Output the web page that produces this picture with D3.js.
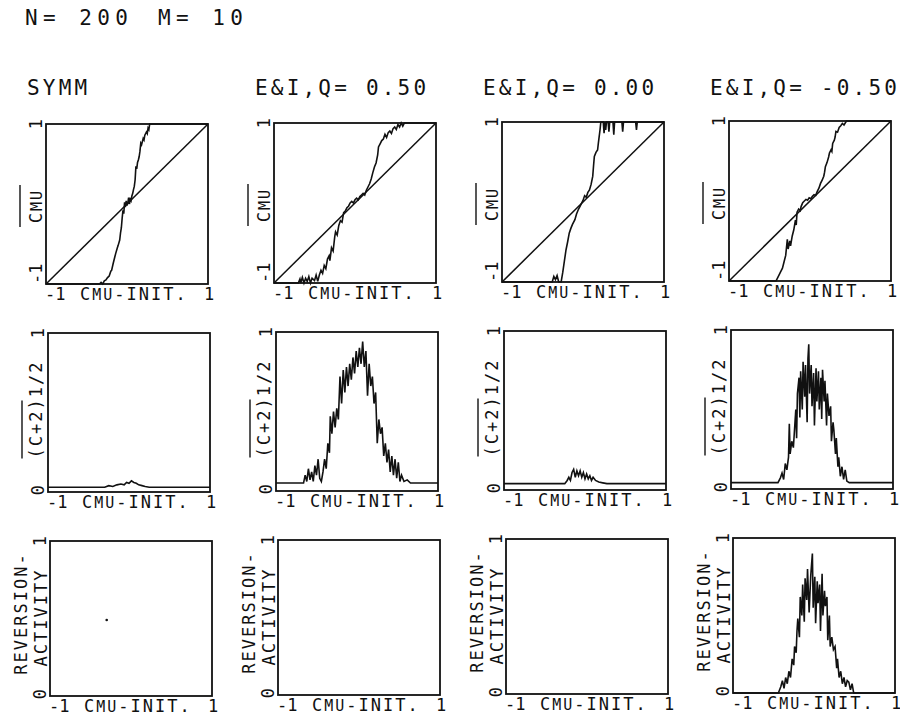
<!DOCTYPE html>
<html lang="en">
<head>
<meta charset="UTF-8">
<title>CMU panels</title>
<script src="https://d3js.org/d3.v7.min.js"></script>
<style>
    body { margin: 0; background: #fff; }
    text { font-family: "DejaVu Sans Mono", monospace; fill: #111; }
    .big { font-size: 21px; letter-spacing: 3.2px; }
    .head { letter-spacing: 5.4px; }
    .ax { font-size: 17px; letter-spacing: 2px; }
</style>
</head>
<body>
<div id="chart"></div>

<script type="text/javascript">
    var width = 900;
    var height = 717;

    var headerN = "N= 200";
    var headerM = "M= 10";
    var columnTitles = ["SYMM", "E&I,Q= 0.50", "E&I,Q= 0.00", "E&I,Q= -0.50"];
    var xTicks = ["-1", "1"];
    var rowTicks = [["-1", "1"], ["0", "1"], ["0", "1"]];
    var rowDomains = [[-1, 1], [0, 1], [0, 1]];

    // row 1: final CMU against initial CMU, with the diagonal
    var diagonal = [[-1, -1], [1, 1]];
    var cmuSymm = [[-1,-1],[-0.34,-1],[-0.32,-0.98],[-0.3,-1],[-0.28,-0.96],[-0.26,-0.95],[-0.24,-0.92],[-0.22,-0.9],[-0.2,-0.84],[-0.19,-0.83],[-0.17,-0.74],[-0.15,-0.66],[-0.14,-0.62],[-0.12,-0.55],[-0.11,-0.52],[-0.09,-0.45],[-0.08,-0.36],[-0.07,-0.3],[-0.06,-0.18],[-0.05,-0.08],[-0.04,-0.12],[-0.03,0.02],[-0.02,-0.04],[-0.01,0.04],[0.0,-0.02],[0.01,0.01],[0.02,0.08],[0.03,0.0],[0.04,0.06],[0.05,0.04],[0.06,0.1],[0.07,0.13],[0.08,0.18],[0.09,0.22],[0.1,0.3],[0.11,0.47],[0.12,0.44],[0.13,0.52],[0.14,0.55],[0.15,0.59],[0.16,0.66],[0.17,0.76],[0.18,0.74],[0.2,0.82],[0.21,0.8],[0.22,0.86],[0.24,0.9],[0.25,0.88],[0.26,0.95],[0.27,0.93],[0.28,1],[1,1]];
    var cmuQ050 = [[-1,-1],[-0.7,-1],[-0.68,-0.95],[-0.67,-1],[-0.65,-0.93],[-0.63,-1],[-0.61,-0.94],[-0.59,-0.98],[-0.57,-0.92],[-0.55,-1],[-0.53,-0.94],[-0.5,-0.97],[-0.48,-0.9],[-0.46,-0.98],[-0.44,-0.9],[-0.42,-0.84],[-0.4,-0.88],[-0.38,-0.78],[-0.36,-0.82],[-0.34,-0.7],[-0.32,-0.66],[-0.31,-0.72],[-0.29,-0.56],[-0.27,-0.6],[-0.25,-0.42],[-0.24,-0.36],[-0.22,-0.4],[-0.2,-0.28],[-0.18,-0.22],[-0.16,-0.24],[-0.14,-0.12],[-0.12,-0.1],[-0.1,-0.06],[-0.08,-0.04],[-0.06,0.0],[-0.04,0.02],[-0.02,0.0],[0.0,0.04],[0.02,0.06],[0.04,0.04],[0.06,0.08],[0.08,0.1],[0.1,0.12],[0.12,0.1],[0.14,0.16],[0.16,0.2],[0.18,0.24],[0.2,0.3],[0.22,0.38],[0.24,0.45],[0.26,0.5],[0.28,0.6],[0.29,0.7],[0.31,0.74],[0.33,0.78],[0.35,0.8],[0.37,0.86],[0.39,0.82],[0.41,0.88],[0.43,0.9],[0.45,0.87],[0.47,0.93],[0.49,0.95],[0.51,0.92],[0.53,0.98],[0.55,0.95],[0.57,1],[0.59,0.96],[0.61,1],[1,1]];
    var cmuQ000 = [[-1,-1],[-0.38,-1],[-0.36,-0.93],[-0.34,-0.97],[-0.32,-0.92],[-0.3,-1],[-0.27,-1],[-0.25,-0.88],[-0.23,-0.74],[-0.21,-0.6],[-0.19,-0.5],[-0.17,-0.39],[-0.15,-0.33],[-0.13,-0.28],[-0.1,-0.22],[-0.08,-0.15],[-0.06,-0.1],[-0.04,-0.06],[-0.02,-0.02],[0.0,0.02],[0.02,0.08],[0.04,0.06],[0.06,0.12],[0.08,0.15],[0.1,0.22],[0.12,0.32],[0.13,0.45],[0.14,0.57],[0.16,0.62],[0.18,0.65],[0.19,0.74],[0.2,0.82],[0.21,0.9],[0.22,1],[0.25,1],[0.26,0.86],[0.27,1],[0.28,0.9],[0.29,1],[0.31,1],[0.32,0.88],[0.33,1],[0.37,1],[0.38,0.84],[0.39,1],[0.48,1],[0.49,0.88],[0.5,1],[0.65,1],[0.66,0.9],[0.67,1],[1,1]];
    var cmuQm050 = [[-1,-1],[-0.42,-1],[-0.4,-0.96],[-0.38,-0.92],[-0.36,-0.88],[-0.34,-0.84],[-0.32,-0.76],[-0.3,-0.68],[-0.28,-0.48],[-0.27,-0.6],[-0.25,-0.5],[-0.24,-0.56],[-0.22,-0.44],[-0.2,-0.36],[-0.18,-0.24],[-0.17,-0.3],[-0.16,-0.14],[-0.14,-0.1],[-0.12,-0.12],[-0.11,-0.07],[-0.09,-0.02],[-0.07,0.0],[-0.05,0.02],[-0.03,0.01],[-0.01,0.04],[0.01,0.03],[0.03,0.06],[0.05,0.08],[0.07,0.07],[0.09,0.12],[0.11,0.16],[0.13,0.22],[0.15,0.26],[0.17,0.31],[0.18,0.36],[0.19,0.43],[0.21,0.48],[0.23,0.55],[0.24,0.6],[0.26,0.64],[0.27,0.62],[0.28,0.72],[0.3,0.76],[0.31,0.8],[0.32,0.87],[0.34,0.86],[0.36,0.92],[0.38,0.94],[0.4,0.97],[0.42,0.95],[0.45,1],[1,1]];

    // row 2: (C+^2)^1/2 against initial CMU
    var flucSymm = [[-1,0.03],[-0.3,0.03],[-0.25,0.04],[-0.2,0.035],[-0.15,0.045],[-0.1,0.05],[-0.06,0.045],[-0.03,0.06],[0.0,0.055],[0.03,0.07],[0.06,0.06],[0.09,0.055],[0.12,0.045],[0.16,0.04],[0.2,0.035],[0.25,0.03],[1,0.03]];
    var flucQ050 = [[-1,0.05],[-0.66,0.05],[-0.64,0.1],[-0.62,0.06],[-0.6,0.14],[-0.58,0.07],[-0.56,0.12],[-0.54,0.06],[-0.52,0.16],[-0.5,0.1],[-0.48,0.2],[-0.46,0.08],[-0.44,0.06],[-0.42,0.12],[-0.4,0.2],[-0.38,0.14],[-0.36,0.3],[-0.34,0.24],[-0.33,0.47],[-0.31,0.36],[-0.29,0.5],[-0.27,0.4],[-0.25,0.52],[-0.23,0.45],[-0.21,0.72],[-0.19,0.55],[-0.17,0.76],[-0.15,0.62],[-0.13,0.78],[-0.11,0.66],[-0.09,0.8],[-0.07,0.7],[-0.05,0.84],[-0.03,0.74],[-0.01,0.88],[0.01,0.78],[0.03,0.9],[0.05,0.8],[0.07,0.94],[0.09,0.78],[0.11,0.88],[0.13,0.6],[0.15,0.8],[0.17,0.66],[0.19,0.72],[0.21,0.55],[0.23,0.62],[0.25,0.3],[0.27,0.45],[0.29,0.36],[0.31,0.4],[0.33,0.22],[0.35,0.3],[0.37,0.18],[0.39,0.26],[0.41,0.12],[0.43,0.22],[0.45,0.1],[0.47,0.2],[0.49,0.08],[0.51,0.18],[0.53,0.06],[0.55,0.1],[0.58,0.06],[0.62,0.07],[0.66,0.05],[1,0.05]];
    var flucQ000 = [[-1,0.04],[-0.25,0.04],[-0.22,0.06],[-0.2,0.08],[-0.18,0.06],[-0.16,0.11],[-0.14,0.13],[-0.12,0.08],[-0.1,0.12],[-0.08,0.09],[-0.06,0.12],[-0.04,0.08],[-0.02,0.11],[0.0,0.07],[0.02,0.1],[0.04,0.07],[0.06,0.09],[0.08,0.06],[0.1,0.08],[0.13,0.06],[0.17,0.05],[0.22,0.045],[0.27,0.04],[1,0.04]];
    var flucQm050 = [[-1,0.04],[-0.42,0.04],[-0.39,0.07],[-0.37,0.1],[-0.35,0.06],[-0.33,0.16],[-0.31,0.12],[-0.29,0.2],[-0.28,0.41],[-0.27,0.22],[-0.25,0.3],[-0.23,0.26],[-0.22,0.34],[-0.2,0.5],[-0.19,0.32],[-0.18,0.6],[-0.16,0.7],[-0.15,0.45],[-0.14,0.74],[-0.12,0.5],[-0.11,0.8],[-0.09,0.58],[-0.08,0.78],[-0.06,0.42],[-0.05,0.82],[-0.04,0.91],[-0.03,0.6],[-0.01,0.78],[0.0,0.52],[0.02,0.73],[0.03,0.4],[0.05,0.76],[0.06,0.55],[0.08,0.74],[0.09,0.5],[0.11,0.7],[0.12,0.44],[0.13,0.75],[0.15,0.55],[0.16,0.68],[0.18,0.4],[0.19,0.6],[0.21,0.46],[0.23,0.52],[0.24,0.3],[0.26,0.42],[0.27,0.37],[0.29,0.22],[0.3,0.32],[0.32,0.14],[0.33,0.2],[0.35,0.08],[0.37,0.14],[0.39,0.06],[0.41,0.12],[0.43,0.05],[0.46,0.04],[1,0.04]];

    // row 3: reversion activity against initial CMU
    var revSymm = [[-0.3, 0.49]];
    var revQ050 = [];
    var revQ000 = [];
    var revQm050 = [[-1,0],[-0.44,0],[-0.41,0.04],[-0.39,0.08],[-0.37,0.03],[-0.35,0.1],[-0.33,0.06],[-0.31,0.14],[-0.29,0.1],[-0.27,0.22],[-0.25,0.18],[-0.24,0.3],[-0.22,0.26],[-0.21,0.4],[-0.2,0.48],[-0.18,0.36],[-0.17,0.62],[-0.15,0.5],[-0.14,0.7],[-0.12,0.46],[-0.11,0.74],[-0.09,0.6],[-0.08,0.8],[-0.06,0.52],[-0.04,0.76],[-0.02,0.9],[-0.01,0.55],[0.01,0.75],[0.02,0.45],[0.04,0.72],[0.05,0.58],[0.07,0.7],[0.08,0.4],[0.1,0.77],[0.11,0.5],[0.13,0.66],[0.14,0.56],[0.16,0.62],[0.17,0.34],[0.19,0.5],[0.2,0.3],[0.22,0.36],[0.24,0.28],[0.26,0.3],[0.28,0.16],[0.29,0.22],[0.31,0.1],[0.33,0.14],[0.35,0.06],[0.37,0.1],[0.39,0.04],[0.41,0.08],[0.43,0.07],[0.45,0.02],[0.47,0.06],[0.49,0],[1,0]];

    var panels = [
        [cmuSymm, cmuQ050, cmuQ000, cmuQm050],
        [flucSymm, flucQ050, flucQ000, flucQm050],
        [revSymm, revQ050, revQ000, revQm050]
    ];

    // layout of the scanned sheet (it is slightly skewed)
    var colX = [47, 275, 503, 730];
    var rowY = [123, 332, 540];
    var rowH = [160, 159, 155];
    var boxW = 162;
    var colDy = [1, 0, -1, -2];
    var rowDx = [-1, 1, 3];

    var svg = d3.select("#chart")
        .append("svg")
        .attr("width", width)
        .attr("height", height)
        .style("background", "#fff");

    svg.append("text").attr("class", "big head").attr("x", 25).attr("y", 25).text(headerN);
    svg.append("text").attr("class", "big head").attr("x", 158).attr("y", 25).text(headerM);

    svg.selectAll(".title")
        .data(columnTitles)
        .enter().append("text")
        .attr("class", "big title")
        .attr("x", function (d, i) { return colX[i] - 20; })
        .attr("y", 95)
        .text(function (d) { return d; });

    function cmuText(sel, big, small) {
        sel.append("tspan").text("C");
        sel.append("tspan").style("font-size", small + "px").text("MU");
        sel.append("tspan").text(big);
    }

    function yLabel(g, r, x0, y0, h) {
        var mid = y0 + h / 2;
        if (r === 0) {
            var t = g.append("text").attr("class", "ax")
                .attr("text-anchor", "middle")
                .attr("transform", "translate(" + (x0 - 4) + "," + (mid + 2) + ") rotate(-90)");
            cmuText(t, "", 15);
            g.append("line")
                .attr("x1", x0 - 26).attr("x2", x0 - 26)
                .attr("y1", mid - 19).attr("y2", mid + 23)
                .attr("stroke", "#111").attr("stroke-width", 1.4);
        } else if (r === 1) {
            g.append("text").attr("class", "ax")
                .attr("text-anchor", "middle")
                .attr("transform", "translate(" + (x0 - 6) + "," + (mid - 3) + ") rotate(-90)")
                .text("(C+2)1/2");
            g.append("line")
                .attr("x1", x0 - 26).attr("x2", x0 - 26)
                .attr("y1", mid - 12).attr("y2", mid + 46)
                .attr("stroke", "#111").attr("stroke-width", 1.4);
        } else {
            g.append("text").attr("class", "ax")
                .attr("text-anchor", "middle")
                .attr("transform", "translate(" + (x0 - 23) + "," + (mid - 5) + ") rotate(-90)")
                .text("REVERSION-");
            g.append("text").attr("class", "ax")
                .attr("text-anchor", "middle")
                .attr("transform", "translate(" + (x0 - 3) + "," + (mid - 1) + ") rotate(-90)")
                .text("ACTIVITY");
        }
    }

    panels.forEach(function (row, r) {
        row.forEach(function (series, c) {
            var x0 = colX[c] + rowDx[r];
            var y0 = rowY[r] + colDy[c];
            var h = rowH[r];
            var g = svg.append("g");

            var xScale = d3.scaleLinear().domain([-1, 1]).range([x0, x0 + boxW]);
            var yScale = d3.scaleLinear().domain(rowDomains[r]).range([y0 + h, y0]);

            var line = d3.line()
                .x(function (d) { return xScale(d[0]); })
                .y(function (d) { return yScale(d[1]); });

            if (r === 0) {
                g.append("path")
                    .attr("d", line(diagonal))
                    .attr("fill", "none")
                    .attr("stroke", "#111")
                    .attr("stroke-width", 1.5);
            }

            if (series.length > 1) {
                g.append("path")
                    .attr("d", line(series))
                    .attr("fill", "none")
                    .attr("stroke", "#111")
                    .attr("stroke-width", 1.6)
                    .attr("stroke-linejoin", "miter");
            } else if (series.length === 1) {
                g.selectAll("circle")
                    .data(series)
                    .enter().append("circle")
                    .attr("cx", function (d) { return xScale(d[0]); })
                    .attr("cy", function (d) { return yScale(d[1]); })
                    .attr("r", 1.3)
                    .attr("fill", "#111");
            }

            g.append("rect")
                .attr("x", x0).attr("y", y0)
                .attr("width", boxW).attr("height", h)
                .attr("fill", "none")
                .attr("stroke", "#111")
                .attr("stroke-width", 1.8);

            // x axis labels
            var base = y0 + h + 16;
            g.append("text").attr("class", "ax")
                .attr("x", x0 - 1).attr("y", base)
                .style("letter-spacing", "0px")
                .text(xTicks[0]);
            var xl = g.append("text").attr("class", "ax")
                .attr("x", x0 + 34).attr("y", base);
            cmuText(xl, "-INIT.", 15);
            g.append("text").attr("class", "ax")
                .attr("x", x0 + boxW + 1).attr("y", base)
                .attr("text-anchor", "middle")
                .style("letter-spacing", "0px")
                .text(xTicks[1]);

            // y axis tick labels, rotated like the rest of the left margin
            var lo = rowTicks[r][0], hi = rowTicks[r][1];
            g.append("text").attr("class", "ax")
                .attr("text-anchor", "middle")
                .style("letter-spacing", "0px")
                .attr("transform", "translate(" + (x0 - 4) + "," + y0 + ") rotate(-90)")
                .text(hi);
            g.append("text").attr("class", "ax")
                .attr("text-anchor", lo === "-1" ? "start" : "middle")
                .style("letter-spacing", "0px")
                .attr("transform", "translate(" + (x0 - 4) + "," + (lo === "-1" ? y0 + h : y0 + h - 2) + ") rotate(-90)")
                .text(lo);

            yLabel(g, r, x0, y0, h);
        });
    });
</script>
</body>
</html>
